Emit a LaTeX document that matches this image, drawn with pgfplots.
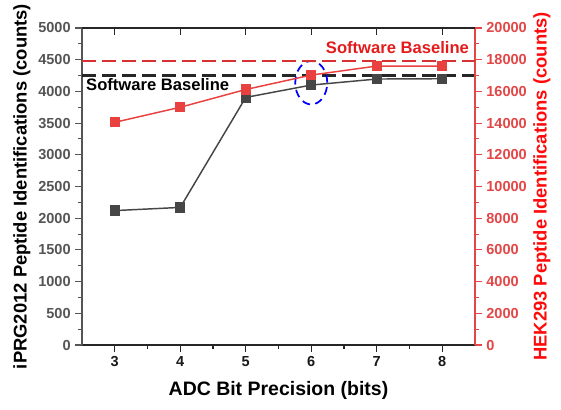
\documentclass[border=0pt]{standalone}
\usepackage{fontspec}
\setmainfont{Liberation Sans}
\usepackage{pgfplots}
\pgfplotsset{compat=1.18}
\definecolor{sgray}{HTML}{464646}
\definecolor{tgray}{HTML}{555555}
\definecolor{sred}{HTML}{E8413F}
\definecolor{bred}{HTML}{D63232}
\definecolor{lred}{HTML}{FF0A0A}
\definecolor{tred}{HTML}{E24646}
\definecolor{txred}{HTML}{E41B1B}

\begin{document}
\begin{tikzpicture}
\pgfplotsset{
  common/.style={
    scale only axis, width=294.75pt, height=237.75pt,
    xmin=2.5, xmax=8.5,
    scaled y ticks=false, scaled x ticks=false,
    /pgf/number format/assume math mode=true,
    /pgf/number format/1000 sep={},
    tick label style={font=\fontsize{10.9}{12}\selectfont\bfseries},
    label style={font=\fontsize{13.8}{16}\selectfont\bfseries},
    major tick length=5pt, minor tick length=3pt,
    axis line style={line width=0.9pt},
    every tick/.style={line width=0.8pt},
  }
}
% main (left) axis
\begin{axis}[common,
  ymin=0, ymax=5000,
  axis x line*=bottom, axis y line*=left,
  tick align=outside,
  xtick={3,4,5,6,7,8}, minor x tick num=1,
  ytick={0,500,...,5000}, minor y tick num=1,
  x axis line style={black!85},
  y axis line style={tgray},
  xtick style={black!85}, ytick style={tgray},
  yticklabel style={text=tgray},
  xticklabel style={text=black!90},
  xlabel={ADC Bit Precision (bits)},
  ylabel={iPRG2012 Peptide Identifications (counts)},
  xlabel style={at={(axis description cs:0.5,-0.142)}, anchor=center, font=\fontsize{14.6}{17}\selectfont\bfseries},
  ylabel style={at={(axis description cs:-0.153,0.5)}, anchor=center, rotate=0},
  clip=false,
]
\coordinate (ll) at (rel axis cs:0,0);
\coordinate (ur) at (rel axis cs:1,1);
\addplot[black!85, line width=1.7pt, dash pattern=on 10.5pt off 4.5pt] coordinates {(2.5,4250) (8.5,4250)};
\addplot[sgray, line width=1.1pt, mark=square*, mark size=3.3pt, mark options={solid, fill=sgray, draw=sgray}]
  coordinates {(3,2120) (4,2170) (5,3905) (6,4100) (7,4195) (8,4200)};
\node[anchor=west, inner sep=0pt, font=\fontsize{12.45}{14}\selectfont\bfseries, text=black] at (axis cs:2.56,4101) {Software Baseline};
\draw[blue, line width=1.3pt, dash pattern=on 6pt off 4pt] (axis cs:6,4137) ellipse [x radius=12pt, y radius=16.3pt];
\end{axis}
% right axis
\begin{axis}[common,
  ymin=0, ymax=20000,
  axis x line=none, axis y line*=right,
  tick align=outside,
  ytick={0,2000,...,20000}, minor y tick num=1,
  y axis line style={tred},
  ytick style={tred},
  yticklabel style={text=tred},
  ylabel={HEK293 Peptide Identifications (counts)},
  ylabel style={at={(axis description cs:1.17,0.5)}, anchor=center, text=lred, rotate=0},
  clip=false,
]
\addplot[bred, line width=1.7pt, dash pattern=on 10.5pt off 4.5pt] coordinates {(2.5,17920) (8.5,17920)};
\addplot[sred, line width=1.1pt, mark=square*, mark size=3.3pt, mark options={solid, fill=sred, draw=sred}]
  coordinates {(3,14050) (4,15000) (5,16120) (6,17030) (7,17600) (8,17600)};
\node[anchor=west, inner sep=0pt, font=\fontsize{12.45}{14}\selectfont\bfseries, text=txred] at (axis cs:6.22,18756) {Software Baseline};
\end{axis}
% top ticks
\begin{axis}[common,
  ymin=0, ymax=1,
  axis x line*=top, axis y line=none,
  tick align=inside,
  xtick={3,4,5,6,7,8}, xticklabels={},
  x axis line style={black!85},
  xtick style={black!85},
]
\end{axis}
\pgfresetboundingbox
\path[use as bounding box] ([shift={(-61.5pt,-48pt)}]ll) rectangle ([shift={(64.5pt,21pt)}]ur);
\end{tikzpicture}
\end{document}
